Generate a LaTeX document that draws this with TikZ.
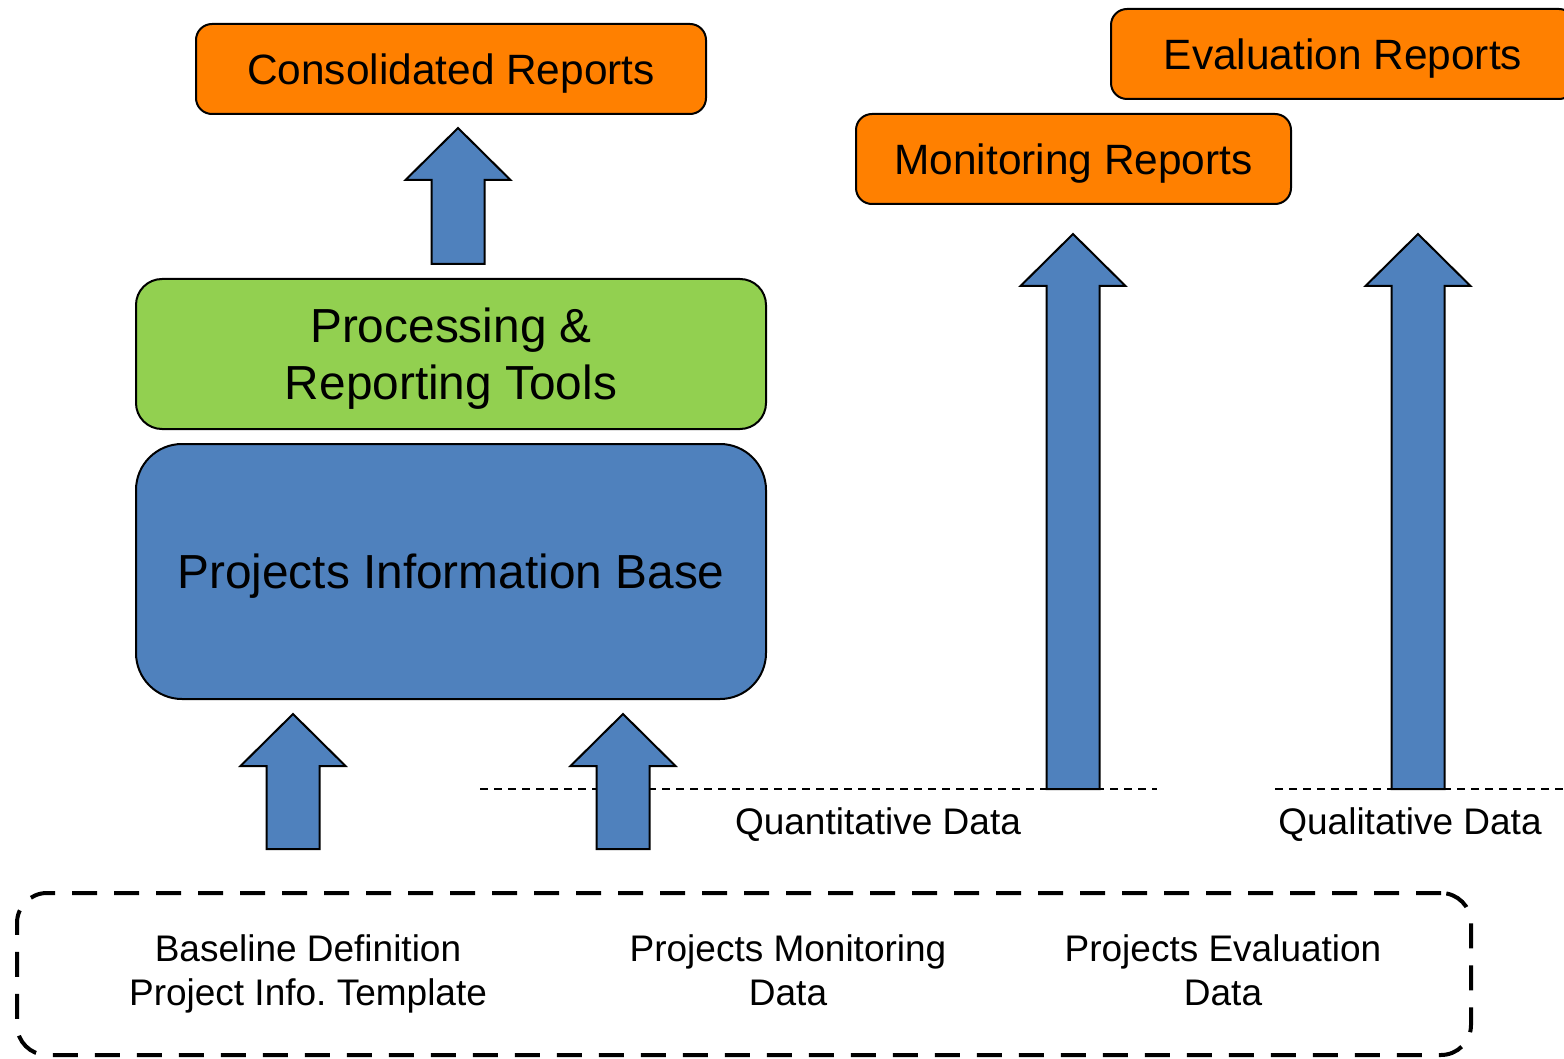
\documentclass[tikz,border=0pt]{standalone}
\usepackage{fontspec}
\setmainfont{Liberation Sans}
\frenchspacing
\definecolor{orangebox}{HTML}{FF8000}
\definecolor{bluebox}{HTML}{4F81BD}
\definecolor{greenbox}{HTML}{92D050}
\newcommand{\blockup}[3]{%
  \draw[blockarrow] ({#1-26.5},#3) -- ({#1-26.5},{#2+52}) -- ({#1-52.5},{#2+52}) -- (#1,#2)
    -- ({#1+52.5},{#2+52}) -- ({#1+26.5},{#2+52}) -- ({#1+26.5},#3) -- cycle;}
\begin{document}
\begin{tikzpicture}[x=0.5pt,y=-0.5pt,
  report/.style={draw=black, line width=1pt, fill=orangebox, rounded corners=8pt,
    minimum height=45pt, inner sep=0pt, text depth=0pt, font=\fontsize{21.2}{25}\selectfont},
  toolbox/.style={draw=black, line width=1pt, fill=greenbox, rounded corners=13pt,
    inner sep=0pt, text depth=0pt, align=center, font=\fontsize{23.9}{28.5}\selectfont},
  basebox/.style={draw=black, line width=1pt, fill=bluebox, rounded corners=23pt,
    inner sep=0pt, text depth=0pt, font=\fontsize{23.9}{28.5}\selectfont},
  blockarrow/.style={draw=black, line width=1pt, fill=bluebox, line join=miter},
  datalabel/.style={inner sep=0pt, text depth=0pt, align=center, font=\fontsize{18.5}{22}\selectfont},
  guide/.style={dashed, line width=0.6pt, dash pattern=on 4pt off 3pt},
  sourcebox/.style={draw=black, line width=2pt, dash pattern=on 12.5pt off 8.5pt,
    rounded corners=15pt, inner sep=0pt}]
\useasboundingbox (0,0) rectangle (1564,1059);
\clip (0,0) rectangle (1564,1059);

% reports
\node[report, minimum width=255pt] (cons) at (451,69) {Consolidated Reports};
\node[report, minimum width=217.5pt] (mon) at (1073.5,159) {Monitoring Reports};
\node[report, minimum width=232pt] (eval) at (1343,54) {Evaluation Reports};

% processing and information base
\node[toolbox, minimum width=315pt, minimum height=75pt] (proc) at (451,354) {Processing \&\\Reporting Tools};
\node[basebox, minimum width=315pt, minimum height=127.5pt] (pib) at (451,571.5) {Projects Information Base};

% dashed guide lines
\coordinate (q1) at (480,789);
\coordinate (q2) at (1157,789);
\coordinate (l1) at (1275,789);
\coordinate (l2) at (1564,789);
\draw[guide] (q1) -- (q2);
\draw[guide] (l1) -- (l2);

% block arrows
\blockup{458}{128}{264}
\blockup{293}{714}{849}
\blockup{623}{714}{849}
\blockup{1073}{234}{789}
\blockup{1418}{234}{789}

% labels
\node[datalabel] (quant) at (878,821) {Quantitative Data};
\node[datalabel] (qual) at (1410,821) {Qualitative Data};

% sources box
\node[sourcebox, minimum width=727pt, minimum height=81pt] (src) at (744,974) {};
\node[datalabel] (base) at (308,970) {Baseline Definition\\Project Info. Template};
\node[datalabel] (pmd) at (788,970) {Projects Monitoring\\Data};
\node[datalabel] (ped) at (1223,970) {Projects Evaluation\\Data};
\end{tikzpicture}
\end{document}
